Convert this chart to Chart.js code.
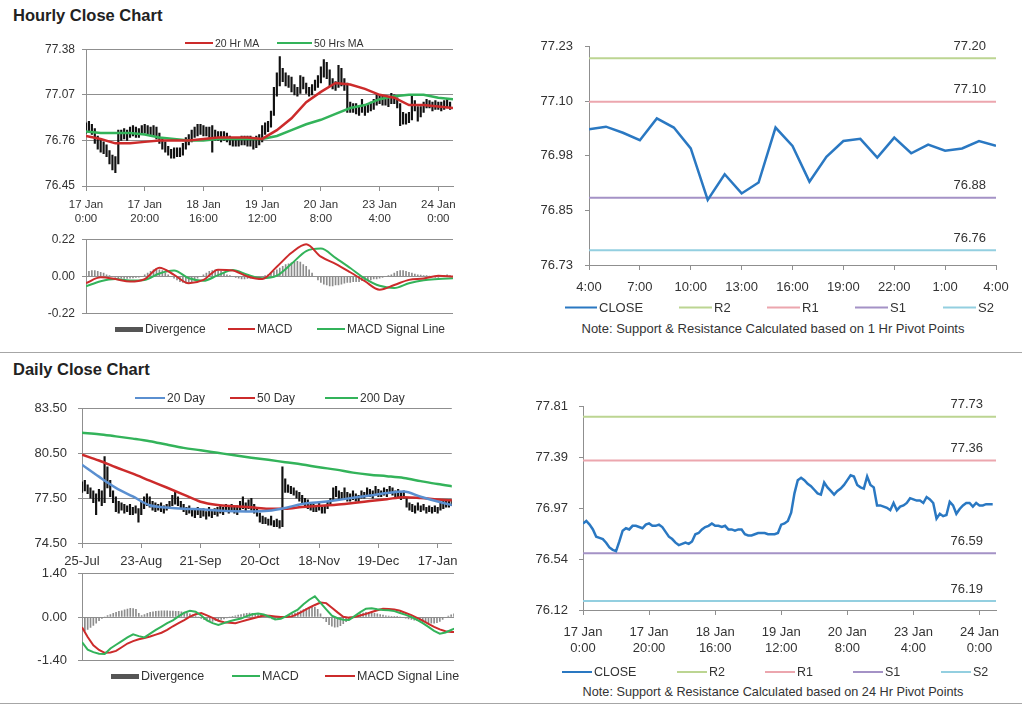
<!DOCTYPE html>
<html lang="en">
<head>
<meta charset="UTF-8" />
<title>Hourly & Daily Close Charts</title>
<script src="https://cdn.jsdelivr.net/npm/chart.js"></script>
<style>
  * { box-sizing: border-box; margin: 0; padding: 0; }
  body { width: 1024px; height: 706px; position: relative; background: #fff; overflow: hidden;
         font-family: "Liberation Sans", Arial, sans-serif; color: #333; }
  canvas { position: absolute; }
  .title { position: absolute; left: 13px; font-weight: bold; font-size: 16.5px; color: #222; }
  .rule { position: absolute; left: 0; width: 1022px; height: 1px; background: #a6a6a6; }
  .lg { position: absolute; display: flex; align-items: center; white-space: nowrap; transform: translateY(-50%); }
  .lg i { display: inline-block; margin-right: 2px; }
  .note { position: absolute; white-space: nowrap; transform: translate(-50%, -50%); }
</style>
</head>
<body>
<div class="title" style="top:6px">Hourly Close Chart</div>
<div class="title" style="top:360px">Daily Close Chart</div>
<div class="rule" style="top:352px"></div>
<div class="rule" style="top:703px"></div>

<canvas id="hourPrice"></canvas>
<canvas id="hourMacd"></canvas>
<canvas id="lastDay"></canvas>
<canvas id="dayPrice"></canvas>
<canvas id="dayMacd"></canvas>
<canvas id="hourClose"></canvas>

<div class="note" style="left:773px;top:328px;font-size:13px">Note: Support &amp; Resistance Calculated based on 1 Hr Pivot Points</div>
<div class="note" style="left:773px;top:692px;font-size:12.7px">Note: Support &amp; Resistance Calculated based on 24 Hr Pivot Points</div>

<script>
// ---- tick labels ----
const hourTicks = [['17 Jan','0:00'],['17 Jan','20:00'],['18 Jan','16:00'],['19 Jan','12:00'],['20 Jan','8:00'],['23 Jan','4:00'],['24 Jan','0:00']];
const lastDayTicks = ['4:00','7:00','10:00','13:00','16:00','19:00','22:00','1:00','4:00'];
const dayTicks = ['25-Jul','23-Aug','21-Sep','20-Oct','18-Nov','19-Dec','17-Jan'];

const hourPriceY = ['76.45','76.76','77.07','77.38'];
const hourMacdY = ['-0.22','0.00','0.22'];
const lastDayY = ['76.73','76.85','76.98','77.10','77.23'];
const dayPriceY = ['74.50','77.50','80.50','83.50'];
const dayMacdY = ['-1.40','0.00','1.40'];
const hourCloseY = ['76.12','76.54','76.97','77.39','77.81'];

// ---- hourly data (17 Jan 0:00 .. 24 Jan 4:00) ----
const hourClose = [
  76.84,76.86,76.83,76.79,76.73,76.72,76.71,76.68,76.64,76.62,
  76.61,76.69,76.78,76.80,76.79,76.82,76.82,76.81,76.80,76.83,
  76.84,76.82,76.82,76.83,76.81,76.77,76.73,76.71,76.68,76.66,
  76.67,76.68,76.67,76.69,76.75,76.76,76.79,76.81,76.82,76.84,
  76.82,76.82,76.81,76.82,76.79,76.79,76.78,76.79,76.79,76.75,
  76.74,76.74,76.75,76.76,76.76,76.76,76.75,76.75,76.75,76.76,
  76.83,76.84,76.86,76.93,77.09,77.20,77.22,77.20,77.17,77.15,
  77.12,77.09,77.08,77.18,77.14,77.11,77.08,77.11,77.13,77.16,
  77.20,77.24,77.23,77.16,77.14,77.13,77.23,77.16,77.14,76.99,
  76.99,76.98,76.97,76.95,77.01,76.95,76.98,76.99,77.01,77.05,
  77.04,77.03,77.03,77.01,77.06,77.04,77.01,76.88,76.92,76.90,
  76.91,77.02,76.99,76.92,76.96,76.99,77.01,77.01,76.98,77.01,
  76.99,76.99,77.00,77.00,77.00
];
const hourHigh = [
  76.88,76.89,76.87,76.84,76.79,76.76,76.75,76.73,76.69,76.66,
  76.65,76.83,76.83,76.84,76.83,76.85,76.86,76.85,76.84,76.86,
  76.87,76.86,76.85,76.86,76.85,76.81,76.78,76.75,76.72,76.70,
  76.71,76.71,76.71,76.74,76.78,76.80,76.83,76.85,76.87,76.87,
  76.86,76.85,76.85,76.86,76.83,76.82,76.82,76.82,76.81,76.79,
  76.77,76.77,76.78,76.79,76.79,76.79,76.79,76.78,76.79,76.80,
  76.86,76.88,76.89,76.96,77.12,77.22,77.33,77.25,77.22,77.20,
  77.19,77.14,77.12,77.20,77.19,77.15,77.12,77.14,77.17,77.20,
  77.26,77.31,77.29,77.24,77.18,77.16,77.27,77.25,77.18,77.15,
  77.02,77.01,77.01,76.99,77.04,77.00,77.01,77.02,77.04,77.07,
  77.07,77.06,77.06,77.05,77.08,77.07,77.05,77.01,76.95,76.94,
  76.95,77.06,77.03,76.99,76.99,77.02,77.04,77.03,77.02,77.03,
  77.02,77.02,77.03,77.04,77.02
];
const hourLow = [
  76.81,76.82,76.80,76.74,76.70,76.68,76.67,76.65,76.60,76.56,
  76.54,76.60,76.76,76.77,76.76,76.78,76.79,76.78,76.78,76.80,
  76.81,76.80,76.79,76.79,76.77,76.74,76.70,76.68,76.66,76.64,
  76.64,76.65,76.65,76.66,76.70,76.73,76.75,76.78,76.79,76.80,
  76.79,76.79,76.78,76.68,76.76,76.76,76.75,76.76,76.75,76.73,
  76.72,76.72,76.72,76.73,76.73,76.72,76.72,76.70,76.71,76.73,
  76.75,76.80,76.82,76.85,76.93,77.06,77.13,77.16,77.13,77.12,
  77.09,77.07,77.06,77.08,77.11,77.08,77.06,77.07,77.10,77.12,
  77.15,77.19,77.18,77.13,77.11,77.10,77.12,77.13,77.10,76.95,
  76.95,76.95,76.94,76.93,76.95,76.93,76.95,76.96,76.97,77.00,
  77.01,77.00,77.00,76.99,77.01,77.01,76.98,76.86,76.87,76.87,
  76.88,76.90,76.96,76.89,76.92,76.95,76.98,76.98,76.96,76.97,
  76.97,76.96,76.97,76.98,76.97
];
// moving averages and MACD read every 5 hours (0, 5, ... 125)
const HOUR_STEP = 5;
const ma20Hour = [76.79,76.77,76.74,76.74,76.75,76.76,76.76,76.76,76.77,76.78,76.78,76.78,76.77,
                  76.83,76.91,77.02,77.09,77.15,77.14,77.11,77.07,77.05,77.00,77.00,76.99,76.98];
const ma50Hour = [76.82,76.81,76.81,76.81,76.80,76.78,76.77,76.76,76.76,76.77,76.77,76.77,76.77,
                  76.79,76.83,76.87,76.90,76.94,76.98,77.00,77.04,77.06,77.07,77.07,77.05,77.04];
const macdHour = [-0.039,-0.005,-0.015,-0.03,-0.015,0.052,0.01,-0.04,-0.02,0.04,0.035,0.0,-0.015,
                  0.058,0.14,0.19,0.117,0.075,0.025,-0.028,-0.078,-0.05,-0.02,-0.012,0.005,0.0];
const signalHour = [-0.058,-0.028,-0.015,-0.023,-0.02,0.018,0.035,-0.01,-0.025,0.008,0.038,0.01,-0.01,
                    0.005,0.075,0.15,0.165,0.11,0.05,-0.012,-0.055,-0.068,-0.04,-0.022,-0.015,-0.01];
const divergenceHour = [
  0.02,0.03,0.035,0.035,0.03,0.025,0.02, 0.01,0.005,0,-0.005,
  -0.01,-0.01,-0.012,-0.012,-0.01,-0.008,-0.006,-0.004,0,
  0.01,0.02,0.03,0.04,0.045,0.04,0.035, 0.02,0.01,0,
  -0.01,-0.02,-0.03,-0.035,-0.04,-0.035,-0.03,-0.02, -0.01,0,0.01,
  0.02,0.03,0.035,0.04,0.035,0.03,0.02, 0.01,0.005,0,
  -0.005,-0.01,-0.015,-0.015,-0.012,-0.01,-0.008,-0.005, 0,0,0.005,0.01,0.02,
  0.03,0.04,0.05,0.06,0.07,0.075,0.08,0.085,0.09,0.085,0.07,0.06, 0.04,0.02,0,
  -0.02,-0.035,-0.045,-0.05,-0.055,-0.055,-0.05,-0.05,-0.045,-0.04,-0.035,-0.035,-0.03,-0.03,
  -0.03,-0.025,-0.025,-0.02,-0.02,-0.015,-0.015,-0.01, -0.005,0,0.005,0.01,
  0.02,0.03,0.035,0.035,0.03,0.025,0.02,0.015, 0.01,0.008,0.005,0.005,0.003,0,
  -0.005,-0.005,0,0.005,0.01,0.005
];

// ---- last 24 hours with 1 Hr pivots ----
const lastDayClose = [77.041,77.047,77.033,77.016,77.066,77.045,76.997,76.879,76.938,76.894,76.919,77.045,
                      77.003,76.921,76.978,77.014,77.019,76.976,77.022,76.986,77.006,76.992,76.997,77.014,77.003];
const pivotNames = ['R2','R1','S1','S2'];
const hourPivots = [77.204, 77.104, 76.884, 76.764];
const dayPivots = [77.727, 77.363, 76.592, 76.194];

// ---- daily data (25 Jul .. 24 Jan) ----
const dayHigh = [
  78.6,78.7,78.4,78.2,78.0,77.8,78.1,78.0,80.3,79.6,
  78.7,78.0,77.6,77.3,77.2,77.1,77.0,77.1,76.9,77.0,
  76.8,77.3,77.6,77.8,77.6,77.3,77.2,77.1,77.2,77.0,
  77.1,77.3,77.7,77.9,77.6,77.3,77.1,76.9,77.0,76.8,
  76.7,76.9,76.7,76.8,76.6,76.9,76.7,76.8,76.9,77.0,
  76.9,77.1,77.0,77.1,76.9,77.0,77.3,77.6,77.2,77.4,
  77.5,77.1,76.9,76.5,76.3,76.2,76.1,76.3,76.0,76.1,
  76.0,79.6,78.8,78.4,78.3,78.2,78.0,77.9,77.7,77.5,
  77.4,77.2,77.1,77.0,77.2,76.9,77.0,77.3,77.5,78.2,
  78.3,78.0,77.9,78.2,77.9,77.8,78.0,77.8,77.7,78.0,
  77.9,78.2,78.1,78.0,78.3,78.1,78.0,78.2,78.1,78.3,
  78.2,78.0,78.1,77.9,78.0,77.5,77.2,77.1,77.0,77.2,
  77.0,77.1,76.9,77.0,76.9,77.0,76.9,77.2,77.3,77.4,
  77.3,77.4
];
const dayLow = [
  77.9,78.0,77.8,77.5,77.2,76.4,77.3,77.0,77.2,78.2,
  77.6,77.2,76.6,76.5,76.7,76.5,76.6,76.4,76.4,76.5,
  75.9,76.4,76.8,77.0,76.9,76.7,76.6,76.7,76.6,76.5,
  76.7,76.8,77.0,77.1,77.0,76.8,76.6,76.4,76.5,76.3,
  76.2,76.4,76.2,76.3,76.1,76.3,76.2,76.4,76.3,76.5,
  76.4,76.6,76.5,76.6,76.5,76.4,76.7,76.8,76.6,76.8,
  76.7,76.5,76.3,75.9,75.8,75.8,75.7,75.7,75.6,75.6,
  75.5,75.6,77.9,77.9,77.8,77.7,77.5,77.3,77.1,77.0,
  76.8,76.7,76.6,76.6,76.7,76.5,76.5,76.8,77.0,77.4,
  77.6,77.4,77.4,77.5,77.3,77.3,77.4,77.3,77.2,77.5,
  77.5,77.6,77.6,77.5,77.7,77.6,77.6,77.7,77.6,77.8,
  77.7,77.6,77.6,77.4,77.5,76.9,76.7,76.6,76.5,76.7,
  76.6,76.7,76.5,76.6,76.5,76.6,76.5,76.7,76.8,76.9,
  76.9,77.0
];
// moving averages read every 6 days (0 .. 132)
const DAY_MA_STEP = 6;
const ma20Day = [79.75,78.95,78.20,77.62,77.03,76.88,76.79,76.76,76.68,76.63,76.62,76.66,
                 76.85,77.12,77.23,77.37,77.53,77.68,77.85,77.95,77.60,77.28,77.00];
const ma50Day = [80.42,80.03,79.58,79.15,78.68,78.22,77.75,77.27,77.05,76.96,76.89,76.80,
                 76.80,76.92,76.99,77.06,77.18,77.31,77.44,77.57,77.51,77.42,77.35];
const ma200Day = [81.89,81.80,81.65,81.50,81.33,81.10,80.88,80.72,80.55,80.38,80.22,80.08,
                  79.92,79.77,79.58,79.42,79.22,79.08,78.98,78.86,78.65,78.45,78.28];
// MACD read every 2 days (0 .. 132)
const DAY_MACD_STEP = 2;
const macdDay = [
  -0.81,-1.06,-1.14,-1.19,-1.2,-1.02,-0.9,-0.78,-0.66,-0.56,-0.62,-0.66,-0.54,-0.42,-0.31,-0.2,
  -0.11,0.02,0.14,0.2,0.17,0.05,-0.11,-0.2,-0.26,-0.2,-0.14,-0.09,-0.05,0.03,0.09,0.11,
  0.08,0.01,-0.08,-0.06,0.03,0.14,0.24,0.41,0.56,0.67,0.46,0.25,0.04,-0.04,-0.09,-0.1,
  0.03,0.16,0.27,0.28,0.25,0.23,0.22,0.19,0.13,0.07,0.0,-0.09,-0.2,-0.32,-0.45,-0.54,
  -0.5,-0.42,-0.34
];
const signalDay = [
  -0.33,-0.65,-0.92,-1.07,-1.16,-1.15,-1.1,-0.98,-0.86,-0.78,-0.72,-0.68,-0.63,-0.57,-0.51,-0.42,
  -0.3,-0.2,-0.1,0.01,0.09,0.13,0.05,-0.03,-0.12,-0.17,-0.19,-0.2,-0.15,-0.1,-0.05,0.0,
  0.05,0.04,0.02,0.0,0.0,0.02,0.1,0.2,0.3,0.39,0.47,0.45,0.3,0.15,0.01,-0.02,
  0.0,0.05,0.1,0.16,0.22,0.27,0.26,0.24,0.2,0.13,0.06,-0.03,-0.12,-0.22,-0.32,-0.4,
  -0.46,-0.49,-0.49
];
const divergenceDay = [
  -0.48,-0.45,-0.4,-0.34,-0.27,-0.2,-0.12, -0.05,0.0,0.05,0.08,
  0.12,0.15,0.18,0.2,0.23,0.26,0.28,0.27,0.25, 0.12,0.05,0.08,
  0.12,0.15,0.17,0.18,0.19,0.2,0.2,0.2,0.19,0.19,0.18,0.18,0.17,0.15,0.13,
  0.1,0.07,0.04,0.0,
  -0.05,-0.09,-0.12,-0.13,-0.14,-0.12,-0.1,-0.08,-0.06,-0.03, 0.0,0.02,
  0.04,0.06,0.08,0.1,0.12,0.13,0.12,0.1,0.08,0.06,
  0.03,0.0,-0.03,-0.06,-0.08,-0.05,-0.02,
  0.02,0.05,0.08,0.1,0.13,0.16,0.2,0.24,0.28,0.3,0.33,0.32,0.25,
  0.1,-0.05,-0.15,-0.25,-0.3,-0.33,-0.32,-0.28,-0.22,-0.15,-0.08,-0.03,
  0.02,0.06,0.1,0.13,0.15,0.15,0.14,0.12,0.1,0.08,0.06,0.04,
  0.03,0.02,0.02,0.01,0.0,-0.02,-0.04,-0.06,-0.08,
  -0.1,-0.12,-0.14,-0.16,-0.18,-0.19,-0.2,-0.2,-0.18,-0.14,-0.08,-0.02,
  0.03,0.07,0.1
];

// ---- styling ----
const red = '#cc2b2b', green = '#33b35a', blue20 = '#5a8fd0', closeBlue = '#2a78c2';
const pivotColors = ['#bcd592', '#eca6ae', '#a492c6', '#93cfe0'];
const gridGray = '#8f8f8f';
const FONT = '"Liberation Sans", Arial, sans-serif';

Chart.defaults.font.family = FONT;
Chart.defaults.color = '#333';
Chart.defaults.animation = false;
Chart.defaults.events = [];
Chart.defaults.plugins.legend.display = false;
Chart.defaults.plugins.tooltip.enabled = false;
Chart.defaults.elements.point.radius = 0;
Chart.defaults.elements.line.borderWidth = 2.5;

const pts = (arr, step) => arr.map((v, i) => ({ x: i * step, y: v }));

// size and place a canvas so that its plot area lands on the given box
function place(id, box, o) {
  const inset = o.yFont * 0.6 + o.yPad;   // half a y label + its padding, kept above/below the plot by Chart.js
  const c = document.getElementById(id);
  const left = box.l - o.yw, top = Math.round(box.t - inset);
  c.width = Math.round(box.r + o.pr - left);
  c.height = Math.round(box.b - top + (o.xh || inset));
  c.style.left = left + 'px';
  c.style.top = top + 'px';
  return c;
}

function xAxis(max, step, labels, o) {
  if (!labels) return { type: 'linear', min: 0, max: max, display: false, offset: false };
  return {
    type: 'linear', min: 0, max: max, offset: false,
    afterBuildTicks: s => { s.ticks = labels.map((_, i) => ({ value: i * step })); },
    afterFit: s => { s.height = o.h; },
    ticks: { callback: (v, i) => labels[i], font: { size: o.font }, padding: o.pad, maxRotation: 0, autoSkip: false },
    grid: { drawOnChartArea: false, offset: false, tickLength: 5, color: gridGray },
    border: { color: gridGray }
  };
}

function yAxis(min, max, labels, o) {
  const n = labels.length;
  return {
    min: min, max: max,
    afterBuildTicks: s => { s.ticks = labels.map((_, i) => ({ value: min + i * (max - min) / (n - 1) })); },
    afterFit: s => { s.width = o.yw; },
    ticks: { callback: (v, i) => labels[i], font: { size: o.yFont }, padding: o.yPad },
    grid: { drawOnChartArea: o.grid, tickLength: 4, color: gridGray },
    border: { color: gridGray }
  };
}

function pivotLabels(values, inset) {
  return {
    id: 'pivotLabels',
    afterDatasetsDraw(chart) {
      const { ctx, chartArea, scales } = chart;
      ctx.save();
      ctx.font = '13px ' + FONT;
      ctx.fillStyle = '#333';
      ctx.textAlign = 'right';
      ctx.textBaseline = 'middle';
      values.forEach(v => ctx.fillText(v.toFixed(2), chartArea.right - inset, scales.y.getPixelForValue(v) - 12));
      ctx.restore();
    }
  };
}

function pivotSets(values, lastX) {
  return values.map((v, i) => ({
    data: [{ x: 0, y: v }, { x: lastX, y: v }], borderColor: pivotColors[i], borderWidth: 2, order: 5
  }));
}

function legend(y, size, items) {
  items.forEach(([x, w, color, kind, text]) => {
    const d = document.createElement('div');
    d.className = 'lg';
    d.style.left = x + 'px';
    d.style.top = y + 'px';
    d.style.fontSize = size + 'px';
    const s = document.createElement('i');
    s.style.width = w + 'px';
    s.style.height = kind === 'bar' ? '5px' : '2px';
    s.style.background = color;
    d.appendChild(s);
    d.appendChild(document.createTextNode(text));
    document.body.appendChild(d);
  });
}

// Hourly price with moving averages
const hpOpt = { yw: 60, yFont: 12, yPad: 7, pr: 12, xh: 45, grid: true };
new Chart(place('hourPrice', { l: 86, t: 49.5, r: 453, b: 186 }, hpOpt), {
  type: 'line',
  data: { datasets: [
    { type: 'bar', data: hourLow.map((lo, i) => ({ x: i, y: [lo, hourHigh[i]] })), backgroundColor: '#111', barThickness: 1.5, order: 3 },
    { data: pts(ma20Hour, HOUR_STEP), borderColor: red, order: 1 },
    { data: pts(ma50Hour, HOUR_STEP), borderColor: green, order: 2 }
  ]},
  options: {
    responsive: false,
    layout: { padding: { right: hpOpt.pr } },
    scales: {
      x: xAxis(125, 20, hourTicks, { h: hpOpt.xh, font: 11.5, pad: 7 }),
      y: yAxis(76.45, 77.38, hourPriceY, hpOpt)
    }
  }
});

// Hourly MACD
const hmOpt = { yw: 60, yFont: 12, yPad: 7, pr: 12, grid: true };
new Chart(place('hourMacd', { l: 86, t: 239, r: 453, b: 314 }, hmOpt), {
  type: 'line',
  data: { datasets: [
    { type: 'bar', data: pts(divergenceHour, 1), backgroundColor: '#8c8c8c', barThickness: 1, order: 3 },
    { data: pts(macdHour, HOUR_STEP), borderColor: red, borderWidth: 2, cubicInterpolationMode: 'monotone', order: 1 },
    { data: pts(signalHour, HOUR_STEP), borderColor: green, borderWidth: 2, cubicInterpolationMode: 'monotone', order: 2 }
  ]},
  options: {
    responsive: false,
    layout: { padding: { right: hmOpt.pr } },
    scales: {
      x: xAxis(125),
      y: yAxis(-0.22, 0.22, hourMacdY, hmOpt)
    }
  }
});

// Last 24 hours with 1 Hr pivots
const ldOpt = { yw: 60, yFont: 13, yPad: 12, pr: 26, xh: 35, grid: false };
new Chart(place('lastDay', { l: 589, t: 47, r: 996, b: 265 }, ldOpt), {
  type: 'line',
  data: { datasets: [
    { data: pts(lastDayClose, 1), borderColor: closeBlue, order: 1 },
    ...pivotSets(hourPivots, lastDayClose.length - 1)
  ]},
  options: {
    responsive: false,
    layout: { padding: { right: ldOpt.pr } },
    scales: {
      x: xAxis(24, 3, lastDayTicks, { h: ldOpt.xh, font: 13, pad: 10 }),
      y: yAxis(76.73, 77.23, lastDayY, ldOpt)
    }
  },
  plugins: [pivotLabels(hourPivots, 10)]
});

// Daily price with moving averages
const dpOpt = { yw: 56, yFont: 13, yPad: 11, pr: 12, xh: 28, grid: true };
new Chart(place('dayPrice', { l: 82, t: 408.5, r: 452, b: 542.5 }, dpOpt), {
  type: 'line',
  data: { datasets: [
    { type: 'bar', data: dayLow.map((lo, i) => ({ x: i, y: [lo, dayHigh[i]] })), backgroundColor: '#111', barThickness: 1.5, order: 4 },
    { data: pts(ma20Day, DAY_MA_STEP), borderColor: blue20, cubicInterpolationMode: 'monotone', order: 1 },
    { data: pts(ma50Day, DAY_MA_STEP), borderColor: red, cubicInterpolationMode: 'monotone', order: 2 },
    { data: pts(ma200Day, DAY_MA_STEP), borderColor: green, cubicInterpolationMode: 'monotone', order: 3 }
  ]},
  options: {
    responsive: false,
    layout: { padding: { right: dpOpt.pr } },
    scales: {
      x: xAxis(131, 21, dayTicks, { h: dpOpt.xh, font: 13, pad: 6 }),
      y: yAxis(74.5, 83.5, dayPriceY, dpOpt)
    }
  }
});

// Daily MACD
const dmOpt = { yw: 56, yFont: 13, yPad: 11, pr: 12, grid: true };
new Chart(place('dayMacd', { l: 82, t: 574, r: 454, b: 660 }, dmOpt), {
  type: 'line',
  data: { datasets: [
    { type: 'bar', data: pts(divergenceDay, 1), backgroundColor: '#8c8c8c', barThickness: 1, order: 3 },
    { data: pts(macdDay, DAY_MACD_STEP), borderColor: green, borderWidth: 2, order: 1 },
    { data: pts(signalDay, DAY_MACD_STEP), borderColor: red, borderWidth: 2, order: 2 }
  ]},
  options: {
    responsive: false,
    layout: { padding: { right: dmOpt.pr } },
    scales: {
      x: xAxis(131),
      y: yAxis(-1.4, 1.4, dayMacdY, dmOpt)
    }
  }
});

// Hourly close with 24 Hr pivots
const hcOpt = { yw: 60, yFont: 13, yPad: 11, pr: 16, xh: 48, grid: false };
new Chart(place('hourClose', { l: 583, t: 407, r: 996, b: 610 }, hcOpt), {
  type: 'line',
  data: { datasets: [
    { data: pts(hourClose, 1), borderColor: closeBlue, order: 1 },
    ...pivotSets(dayPivots, hourClose.length)
  ]},
  options: {
    responsive: false,
    layout: { padding: { right: hcOpt.pr } },
    scales: {
      x: xAxis(125, 20, hourTicks, { h: hcOpt.xh, font: 13, pad: 10 }),
      y: yAxis(76.12, 77.81, hourCloseY, hcOpt)
    }
  },
  plugins: [pivotLabels(dayPivots, 13)]
});

// Legends
legend(43, 10.5, [[185, 28, red, 'line', '20 Hr MA'], [277, 35, green, 'line', '50 Hrs MA']]);
legend(329, 12, [[115, 28, '#555', 'bar', 'Divergence'], [228, 27, red, 'line', 'MACD'], [317, 28, green, 'line', 'MACD Signal Line']]);
legend(307, 13, pivotNames.reduce((acc, n, i) => acc.concat([[679 + i * 88, 33, pivotColors[i], 'line', n]]), [[565, 32, closeBlue, 'line', 'CLOSE']]));
legend(398, 12, [[135, 30, blue20, 'line', '20 Day'], [230, 25, red, 'line', '50 Day'], [325, 33, green, 'line', '200 Day']]);
legend(676, 12.5, [[111, 28, '#555', 'bar', 'Divergence'], [232, 28, green, 'line', 'MACD'], [325, 30, red, 'line', 'MACD Signal Line']]);
legend(672, 12.5, pivotNames.reduce((acc, n, i) => acc.concat([[677 + i * 88, 30, pivotColors[i], 'line', n]]), [[562, 30, closeBlue, 'line', 'CLOSE']]));
</script>
</body>
</html>
